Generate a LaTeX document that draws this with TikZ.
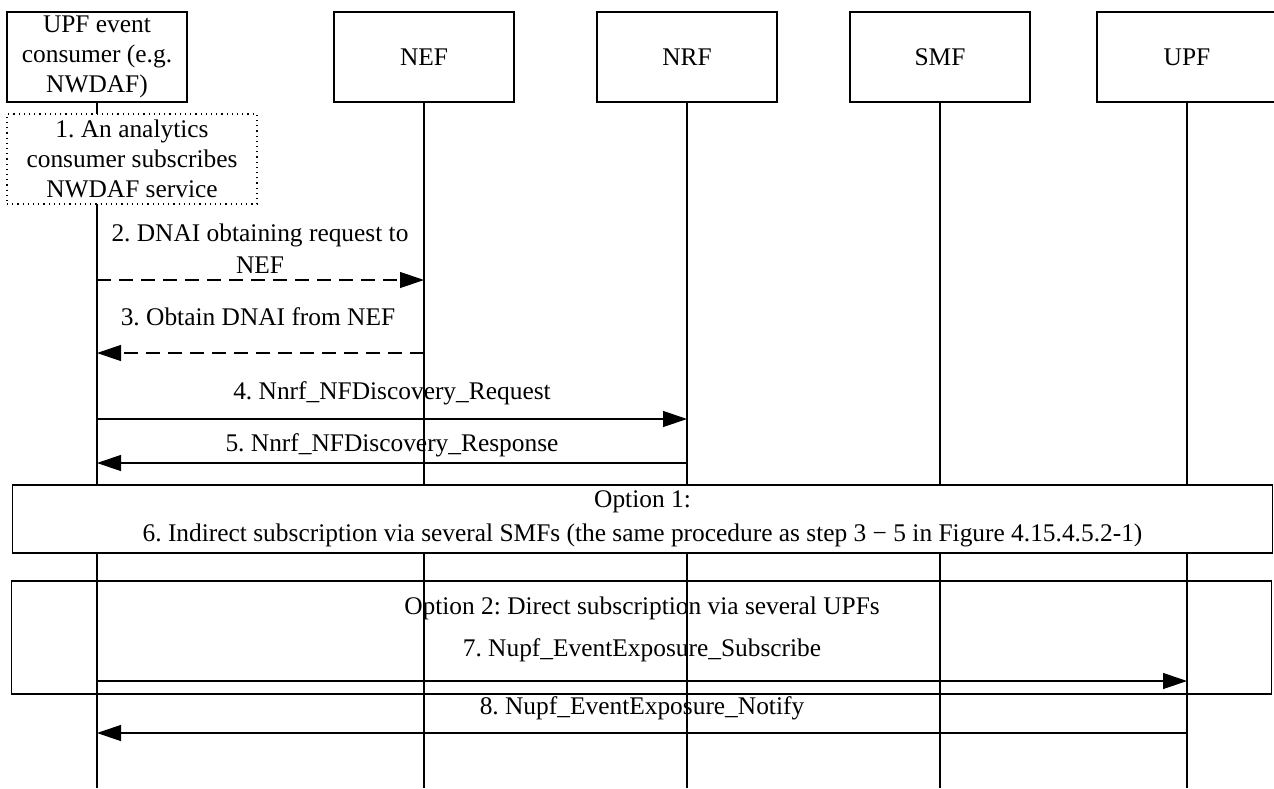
\documentclass[tikz,border=0pt]{standalone}
\usepackage{fontspec}
\setmainfont{Liberation Serif}
\usetikzlibrary{arrows.meta}
\tikzset{
  entity/.style={draw, line width=0.6pt, fill=white, minimum width=90pt, minimum height=45pt, align=center, inner sep=1pt},
  notebox/.style={entity, dotted, minimum width=125pt},
  lifeline/.style={line width=0.6pt},
  msg/.style={-{Triangle[length=12pt,width=8pt]}, line width=0.6pt},
  dmsg/.style={msg, dash pattern=on 7pt off 4pt},
  msglabel/.style={align=center, inner sep=0pt},
  optbox/.style={draw, line width=0.6pt, minimum width=630pt, inner sep=0pt}
}
\frenchspacing

\begin{document}
\begin{tikzpicture}[x=0.5pt, y=-0.5pt, font=\fontsize{12.7}{15}\selectfont]
    \useasboundingbox (0,0) rectangle (1274,788);
    % entities
    \node[entity] (consumer) at (97,57) {UPF event\\consumer (e.g.\\NWDAF)};
    \node[entity] (nef) at (424,57) {NEF};
    \node[entity] (nrf) at (687,57) {NRF};
    \node[entity] (smf) at (940,57) {SMF};
    \node[entity] (upf) at (1187,57) {UPF};
    % lifelines
    \coordinate (consumerEnd) at (97,788);
    \coordinate (nefEnd) at (424,788);
    \coordinate (nrfEnd) at (687,788);
    \coordinate (smfEnd) at (940,788);
    \coordinate (upfEnd) at (1187,788);
    \draw[lifeline] (consumer.south) -- (consumerEnd);
    \draw[lifeline] (nef.south) -- (nefEnd);
    \draw[lifeline] (nrf.south) -- (nrfEnd);
    \draw[lifeline] (smf.south) -- (smfEnd);
    \draw[lifeline] (upf.south) -- (upfEnd);
    % step 1
    \node[notebox] (step1) at (132,159) {1. An analytics\\consumer subscribes\\NWDAF service};
    % steps 2-5
    \node[msglabel, font=\fontsize{12.7}{16}\selectfont] (l2) at (260,249) {2. DNAI obtaining request to\\NEF};
    \draw[dmsg] (consumer |- 0,280) -- (nef |- 0,280);
    \node[msglabel] (l3) at (258,317) {3. Obtain DNAI from NEF};
    \draw[dmsg] (nef |- 0,353) -- (consumer |- 0,353);
    \node[msglabel] (l4) at (392,393) {4. Nnrf\_NFDiscovery\_Request};
    \draw[msg] (consumer |- 0,419) -- (nrf |- 0,419);
    \node[msglabel] (l5) at (392,445) {5. Nnrf\_NFDiscovery\_Response};
    \draw[msg] (nrf |- 0,463) -- (consumer |- 0,463);
    % option 1
    \node[optbox, fill=white, minimum height=34pt, align=center, font=\fontsize{12.7}{17}\selectfont] (opt1) at (642.5,519)
      {Option 1:\\6. Indirect subscription via several SMFs (the same procedure as step 3 − 5 in Figure 4.15.4.5.2-1)};
    % option 2
    \node[optbox, minimum height=56.5pt] (opt2) at (641.5,637.5) {};
    \node[msglabel] (l6) at (642,608) {Option 2: Direct subscription via several UPFs};
    \node[msglabel] (l7) at (642,650) {7. Nupf\_EventExposure\_Subscribe};
    \draw[msg] (consumer |- 0,681) -- (upf |- 0,681);
    \node[msglabel] (l8) at (642,708) {8. Nupf\_EventExposure\_Notify};
    \draw[msg] (upf |- 0,733) -- (consumer |- 0,733);
\end{tikzpicture}
\end{document}
